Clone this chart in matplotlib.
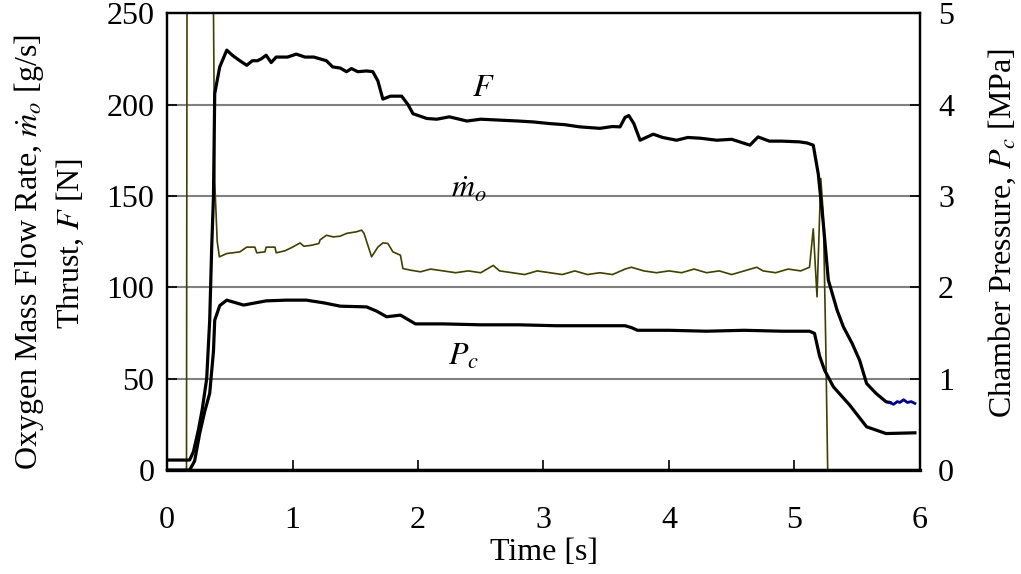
import matplotlib
matplotlib.use("Agg")
import matplotlib.pyplot as plt

# --- Daten --------------------------------------------------------------
# Schub F [N]
t_F = [0.00, 0.18, 0.21, 0.25, 0.28, 0.316, 0.34, 0.356, 0.37, 0.38, 0.42, 0.476,
       0.52, 0.58, 0.635, 0.68, 0.72, 0.75, 0.79, 0.83, 0.87, 0.90, 0.96, 1.03,
       1.10, 1.17, 1.27, 1.32, 1.38, 1.43, 1.47, 1.52, 1.59, 1.64, 1.68, 1.72,
       1.78, 1.87, 1.92, 1.96, 2.07, 2.15, 2.25, 2.39, 2.50, 2.65, 2.80, 2.92,
       3.05, 3.17, 3.29, 3.45, 3.55, 3.61, 3.65, 3.68, 3.72, 3.77, 3.875, 3.95,
       4.06, 4.15, 4.25, 4.38, 4.50, 4.645, 4.71, 4.80, 4.90, 5.04, 5.10, 5.15,
       5.19, 5.23, 5.27, 5.34, 5.39, 5.46, 5.52, 5.575, 5.65, 5.73, 5.76]
F = [5.5, 5.5, 10, 22, 33, 50, 82, 122, 149.5, 206, 220.6, 229.8,
     227, 224, 221.5, 224, 224, 225, 227, 223, 226, 226, 226, 227.6,
     226, 226, 224, 220.6, 220, 218, 219.7, 218, 218.4, 218, 213, 203,
     204.6, 204.6, 200, 195, 192.4, 192, 193.3, 191, 192, 191.5, 191, 190.5,
     189.6, 189, 187.8, 187, 188, 187.8, 193, 194, 189.6, 180.5, 183.8, 182,
     180.5, 182, 181.6, 180.5, 181, 177.8, 182.3, 180, 180, 179.6, 179, 177.8,
     162, 135, 104, 87.5, 78.4, 69.3, 60, 47.4, 42, 37.4, 37]
# letztes Stück (blau im Original)
t_F_end = [5.76, 5.79, 5.82, 5.84, 5.87, 5.90, 5.93, 5.96]
F_end = [37, 36, 37.5, 37, 38.5, 37, 37.5, 36.5]

# Sauerstoff-Massenstrom m_o [g/s]
t_m = [0.00, 0.155, 0.16, 0.365, 0.38, 0.40, 0.417, 0.476, 0.58, 0.635, 0.70, 0.715,
       0.78, 0.79, 0.86, 0.87, 0.94, 1.00, 1.06, 1.09, 1.15, 1.21, 1.22, 1.27,
       1.325, 1.38, 1.43, 1.51, 1.55, 1.57, 1.63, 1.68, 1.72, 1.76, 1.80, 1.86,
       1.88, 1.94, 2.02, 2.10, 2.20, 2.30, 2.40, 2.50, 2.60, 2.65, 2.75, 2.85,
       2.95, 3.05, 3.15, 3.25, 3.35, 3.45, 3.55, 3.65, 3.70, 3.80, 3.90, 4.00,
       4.10, 4.20, 4.30, 4.40, 4.50, 4.60, 4.70, 4.75, 4.85, 4.95, 5.05, 5.12,
       5.15, 5.18, 5.21, 5.23, 5.25, 5.265, 5.94]
m_o = [0, 0, 300, 300, 158, 125, 116.7, 118.5, 119.4, 122, 122, 118.9,
       119.4, 122, 122, 118.9, 120, 122, 124.3, 122.5, 123, 124, 126, 128.5,
       127.6, 128, 129.5, 130.4, 131.3, 129.5, 116.7, 122, 124.3, 124, 119.4, 117.6,
       110.3, 109.4, 108.5, 110, 109, 108, 109, 108, 112, 109, 108, 107,
       109, 108, 107, 109, 107, 108, 107, 110, 111, 109, 108, 109,
       108, 110, 108, 109, 107, 109, 111, 109, 108, 110, 109, 111,
       132, 94.8, 159.6, 140, 67.4, 0, 0]

# Brennkammerdruck P_c [MPa]
t_P = [0.00, 0.18, 0.22, 0.26, 0.30, 0.34, 0.37, 0.38, 0.42, 0.476, 0.61, 0.79,
       0.95, 1.11, 1.25, 1.38, 1.59, 1.67, 1.75, 1.86, 1.98, 2.20, 2.50, 2.80,
       3.10, 3.40, 3.65, 3.70, 3.75, 4.00, 4.30, 4.60, 4.90, 5.12, 5.16, 5.20,
       5.24, 5.31, 5.44, 5.575, 5.73, 5.96]
P_c = [0, 0, 0.1, 0.4, 0.64, 0.84, 1.3, 1.64, 1.8, 1.86, 1.806, 1.852,
       1.86, 1.86, 1.83, 1.794, 1.786, 1.74, 1.678, 1.696, 1.6, 1.6, 1.59, 1.59,
       1.58, 1.58, 1.58, 1.56, 1.53, 1.53, 1.52, 1.53, 1.52, 1.52, 1.496, 1.25,
       1.094, 0.912, 0.712, 0.474, 0.40, 0.408]

plt.rcParams["font.family"] = ["Liberation Serif", "DejaVu Serif"]
plt.rcParams["mathtext.fontset"] = "stix"
FS = 23

fig = plt.figure(figsize=(10.21, 5.74), dpi=100)
ax = fig.add_axes([0.1636, 0.181, 0.7374, 0.796])
ax2 = ax.twinx()

for y in [50, 100, 150, 200]:
    ax.axhline(y, color="#808080", lw=1.5, zorder=1)

ax.plot(t_m, m_o, color="#404000", lw=1.2, zorder=3)
ax.plot(t_F, F, color="black", lw=2.3, zorder=4)
ax.plot(t_F_end, F_end, color="#00008b", lw=2.0, zorder=4)
ax2.plot(t_P, P_c, color="black", lw=2.3, zorder=4)

ax.set_xlim(0, 6)
ax.set_ylim(0, 250)
ax2.set_ylim(0, 5)
ax.set_xticks(range(7))
ax.set_yticks(range(0, 251, 50))
ax2.set_yticks(range(6))

ax.tick_params(axis="both", direction="in", length=7, width=1.2, labelsize=FS, pad=9)
ax.tick_params(axis="x", pad=26)
ax2.tick_params(axis="y", direction="in", length=7, width=1.2, labelsize=FS, pad=13)
for a in (ax, ax2):
    for s in a.spines.values():
        s.set_linewidth(1.6)
ax.spines["bottom"].set_linewidth(2.4)

ax.text(2.52, 209, "$F$", fontsize=FS, ha="center", va="center")
ax.text(2.41, 153, r"$\dot{m}_o$", fontsize=FS, ha="center", va="center")
ax.text(2.36, 62, "$P_c$", fontsize=FS, ha="center", va="center")

fig.text(544 / 1021, 1 - 553 / 574, "Time [s]", fontsize=FS, ha="center", va="center")
fig.text(29 / 1021, 1 - 252 / 574, r"Oxygen Mass Flow Rate, $\dot{m}_o$ [g/s]",
         fontsize=FS, rotation=90, ha="center", va="center")
fig.text(70 / 1021, 1 - 243 / 574, "Thrust, $F$ [N]",
         fontsize=FS, rotation=90, ha="center", va="center")
fig.text(1002 / 1021, 1 - 233 / 574, "Chamber Pressure, $P_c$ [MPa]",
         fontsize=FS, rotation=90, ha="center", va="center")

fig.savefig("out.png", dpi=100)
